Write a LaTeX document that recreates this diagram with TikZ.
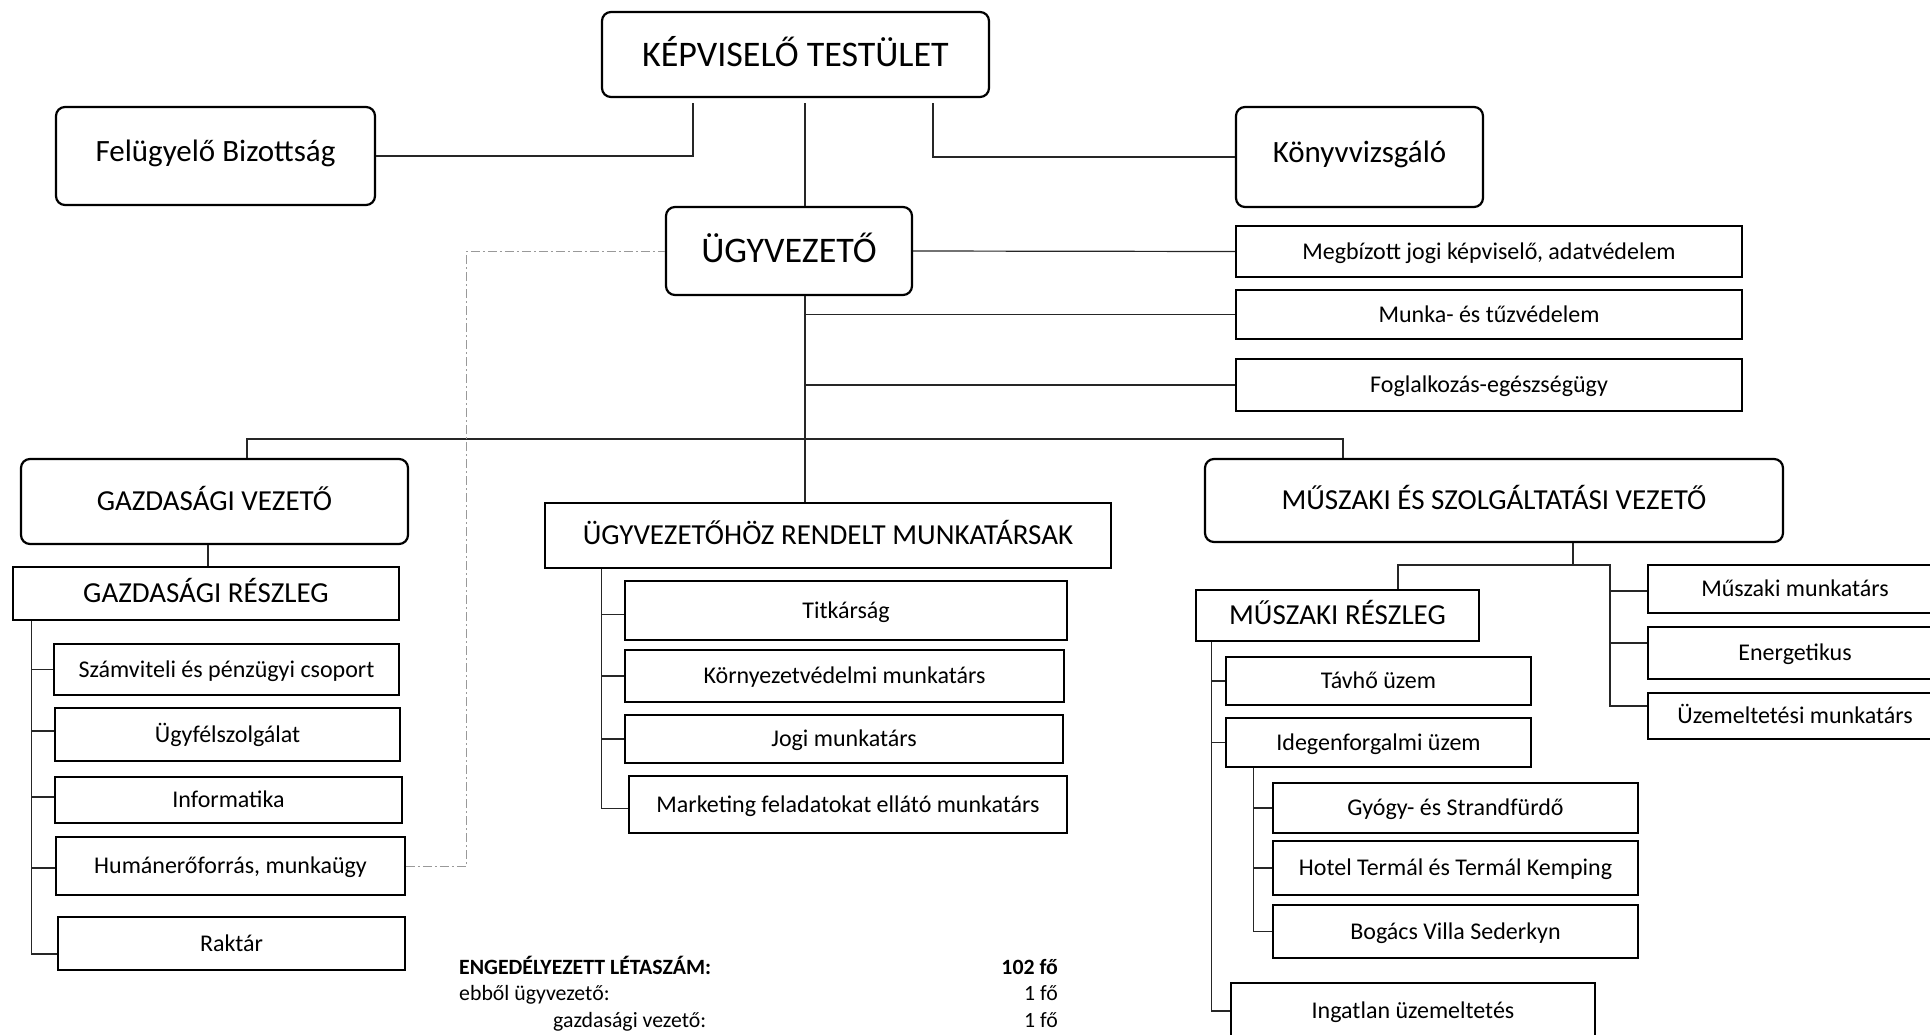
\documentclass[tikz,border=0pt]{standalone}
\usepackage{fontspec}
\setmainfont{Carlito}

\begin{document}
\begin{tikzpicture}[x=1pt,y=1pt]
		\tikzstyle{every node}+=[inner sep=0pt]
		\tikzstyle{leadbox}=[draw,rounded corners=9pt,line width=2.2pt]
		\tikzstyle{unitbox}=[draw,line width=1.6pt]
		\tikzstyle{fbig}=[font=\fontsize{36}{40}\selectfont,text height=23pt,text depth=0pt]
		\tikzstyle{fmid}=[font=\fontsize{31}{36}\selectfont,text height=20pt,text depth=10pt]
		\tikzstyle{fcap}=[font=\fontsize{29}{34}\selectfont,text height=18.7pt,text depth=0pt]
		\tikzstyle{ftext}=[unitbox,font=\fontsize{24}{28}\selectfont,text height=15.5pt,text depth=0pt]
		\tikzstyle{ffoot}=[font=\fontsize{21.8}{26}\selectfont]
		\tikzstyle{ffootb}=[font=\fontsize{21.8}{26}\selectfont\bfseries]
		\tikzstyle{wire}=[line width=1.2pt,black!85]
		\tikzstyle{dotwire}=[line width=1pt,black!40,dash pattern=on 9pt off 3pt on 2pt off 3pt]
		\useasboundingbox (0,0) rectangle (1930,-1034);
		\node [leadbox,fbig,minimum width=387pt,minimum height=85pt] (kt) at (795.5,-54.5) {KÉPVISELŐ TESTÜLET};
		\node [leadbox,fmid,minimum width=319pt,minimum height=98pt] (fb) at (215.5,-156) {Felügyelő Bizottság};
		\node [leadbox,fmid,minimum width=247pt,minimum height=100pt] (kv) at (1359.5,-157) {Könyvvizsgáló};
		\node [leadbox,fbig,minimum width=246pt,minimum height=88pt] (ugy) at (789,-251) {ÜGYVEZETŐ};
		\node [ftext,minimum width=506pt,minimum height=51pt] (mj) at (1489,-251.5) {Megbízott jogi képviselő, adatvédelem};
		\node [ftext,minimum width=506pt,minimum height=49pt] (mt) at (1489,-314.5) {Munka- és tűzvédelem};
		\node [ftext,minimum width=506pt,minimum height=52pt] (fe) at (1489,-385) {Foglalkozás-egészségügy};
		\node [leadbox,fcap,minimum width=387pt,minimum height=85pt] (gv) at (214.5,-501.5) {GAZDASÁGI VEZETŐ};
		\node [unitbox,fcap,minimum width=566pt,minimum height=65pt] (rm) at (828,-535.5) {ÜGYVEZETŐHÖZ RENDELT MUNKATÁRSAK};
		\node [leadbox,fcap,minimum width=578pt,minimum height=83pt] (msv) at (1494,-500.5) {MŰSZAKI ÉS SZOLGÁLTATÁSI VEZETŐ};
		\node [unitbox,fcap,minimum width=386pt,minimum height=53pt] (gr) at (206,-593.5) {GAZDASÁGI RÉSZLEG};
		\node [ftext,minimum width=345pt,minimum height=51pt] (sz) at (226.5,-669.5) {Számviteli és pénzügyi csoport};
		\node [ftext,minimum width=345pt,minimum height=53pt] (uf) at (227.5,-734.5) {Ügyfélszolgálat};
		\node [ftext,minimum width=347pt,minimum height=46pt] (inf) at (228.5,-800) {Informatika};
		\node [ftext,minimum width=349pt,minimum height=58pt] (hu) at (230.5,-866) {Humánerőforrás, munkaügy};
		\node [ftext,minimum width=347pt,minimum height=53pt] (rk) at (231.5,-943.5) {Raktár};
		\node [ftext,minimum width=442pt,minimum height=59pt] (ti) at (846,-610.5) {Titkárság};
		\node [ftext,minimum width=439pt,minimum height=52pt] (kz) at (844.5,-676) {Környezetvédelmi munkatárs};
		\node [ftext,minimum width=438pt,minimum height=48pt] (jo) at (844,-739) {Jogi munkatárs};
		\node [ftext,minimum width=438pt,minimum height=57pt] (mk) at (848,-804.5) {Marketing feladatokat ellátó munkatárs};
		\node [unitbox,fcap,minimum width=283pt,minimum height=51pt] (mr) at (1337.5,-615.5) {MŰSZAKI RÉSZLEG};
		\node [ftext,minimum width=294pt,minimum height=48pt] (mm) at (1795,-589) {Műszaki munkatárs};
		\node [ftext,minimum width=294pt,minimum height=52pt] (en) at (1795,-653) {Energetikus};
		\node [ftext,minimum width=294pt,minimum height=46pt] (um) at (1795,-716) {Üzemeltetési munkatárs};
		\node [ftext,minimum width=305pt,minimum height=48pt] (th) at (1378.5,-681) {Távhő üzem};
		\node [ftext,minimum width=305pt,minimum height=49pt] (ig) at (1378.5,-742.5) {Idegenforgalmi üzem};
		\node [ftext,minimum width=365pt,minimum height=50pt] (gy) at (1455.5,-808) {Gyógy- és Strandfürdő};
		\node [ftext,minimum width=365pt,minimum height=54pt] (ho) at (1455.5,-868) {Hotel Termál és Termál Kemping};
		\node [ftext,minimum width=365pt,minimum height=53pt] (bo) at (1455.5,-931.5) {Bogács Villa Sederkyn};
		\node [ftext,minimum width=364pt,minimum height=56pt] (ing) at (1413,-1011) {Ingatlan üzemeltetés};
		\draw [wire,shorten <=5pt] ([xshift=-102.5pt]kt.south) |- (fb.east);
		\draw [wire,shorten <=5pt] ([xshift=137.5pt]kt.south) |- (kv.west);
		\draw [wire,shorten <=5pt] ([xshift=9.5pt]kt.south) -- ([xshift=9.5pt]kt.south |- ugy.north);
		\draw [wire] (ugy.east) -- (mj.west);
		\draw [wire] ([xshift=16pt]ugy.south) |- (mt.west);
		\draw [wire] ([xshift=16pt]ugy.south) |- (fe.west);
		\draw [wire] ([xshift=16pt]ugy.south) -- ([xshift=16pt]ugy.south |- rm.north);
		\coordinate (busl) at (247,-439);
		\coordinate (busr) at (1343,-439);
		\draw [wire] (busl |- gv.north) -- (busl) -- (busr) -- (busr |- msv.north);
		\draw [wire] ([xshift=-6.5pt]gv.south) -- ([xshift=-6.5pt]gv.south |- gr.north);
		\draw [wire] ([xshift=19pt]gr.south west) |- (sz.west);
		\draw [wire] ([xshift=19pt]gr.south west) |- ([yshift=3.5pt]uf.west);
		\draw [wire] ([xshift=19pt]gr.south west) |- ([yshift=3pt]inf.west);
		\draw [wire] ([xshift=19pt]gr.south west) |- ([yshift=-2pt]hu.west);
		\draw [wire] ([xshift=19pt]gr.south west) |- ([yshift=-10.5pt]rk.west);
		\draw [wire] ([xshift=57pt]rm.south west) |- ([yshift=-4pt]ti.west);
		\draw [wire] ([xshift=57pt]rm.south west) |- (kz.west);
		\draw [wire] ([xshift=57pt]rm.south west) |- (jo.west);
		\draw [wire] ([xshift=57pt]rm.south west) |- ([yshift=-4pt]mk.west);
		\coordinate (mbl) at (1398,-565);
		\coordinate (mbr) at (1610,-565);
		\draw [wire] ([xshift=79pt]msv.south) -- ([xshift=79pt]msv.south |- mbl);
		\draw [wire] (mbl |- mr.north) -- (mbl) -- (mbr) |- ([yshift=-2pt]mm.west);
		\draw [wire] (mbr) |- ([yshift=10pt]en.west);
		\draw [wire] (mbr) |- ([yshift=10pt]um.west);
		\draw [wire] ([xshift=16pt]mr.south west) |- (th.west);
		\draw [wire] ([xshift=16pt]mr.south west) |- (ig.west);
		\draw [wire] ([xshift=16pt]mr.south west) |- (ing.west);
		\draw [wire] ([xshift=28pt]ig.south west) |- (gy.west);
		\draw [wire] ([xshift=28pt]ig.south west) |- (ho.west);
		\draw [wire] ([xshift=28pt]ig.south west) |- (bo.west);
		\draw [dotwire] (hu.east) -- ++(61,0) |- (ugy.west);
		\node [ffootb,anchor=base west] (lsz) at (459,-974) {ENGEDÉLYEZETT LÉTASZÁM:};
		\node [ffootb,anchor=base east] (lszn) at (1058,-974) {102 fő};
		\node [ffoot,anchor=base west] (ugyf) at (459,-1000) {ebből ügyvezető:};
		\node [ffoot,anchor=base east] (ugyn) at (1058,-1000) {1 fő};
		\node [ffoot,anchor=base west] (gvf) at (553,-1027) {gazdasági vezető:};
		\node [ffoot,anchor=base east] (gvn) at (1058,-1027) {1 fő};
	\end{tikzpicture}
\end{document}
